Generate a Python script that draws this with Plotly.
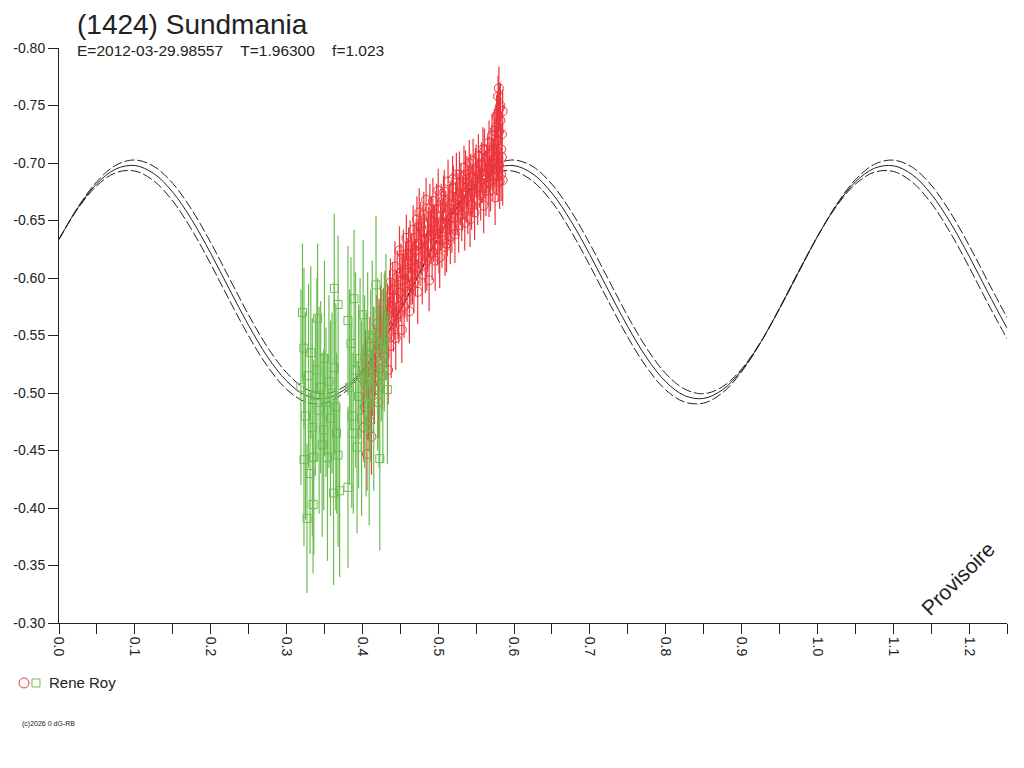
import plotly.graph_objects as go

# fitted light curve, phase step 0.025
fit_phase = [0.000, 0.025, 0.050, 0.075, 0.100, 0.125, 0.150, 0.175, 0.200, 0.225,
             0.250, 0.275, 0.300, 0.325, 0.350, 0.375, 0.400, 0.425, 0.450, 0.475,
             0.500, 0.525, 0.550, 0.575, 0.600, 0.625, 0.650, 0.675, 0.700, 0.725,
             0.750, 0.775, 0.800, 0.825, 0.850, 0.875, 0.900, 0.925, 0.950, 0.975,
             1.000, 1.025, 1.050, 1.075, 1.100, 1.125, 1.150, 1.175, 1.200, 1.225,
             1.250]
fit_mag = [-0.6336, -0.6611, -0.6821, -0.6948, -0.6978, -0.6908, -0.6746, -0.6507, -0.6215, -0.5898,
           -0.5588, -0.5314, -0.5105, -0.4980, -0.4952, -0.5024, -0.5188, -0.5428, -0.5721, -0.6038,
           -0.6348, -0.6620, -0.6828, -0.6951, -0.6977, -0.6904, -0.6738, -0.6496, -0.6202, -0.5885,
           -0.5576, -0.5305, -0.5098, -0.4977, -0.4953, -0.5029, -0.5196, -0.5439, -0.5734, -0.6051,
           -0.6360, -0.6630, -0.6835, -0.6954, -0.6976, -0.6899, -0.6730, -0.6485, -0.6190, -0.5872,
           -0.5564]
fit_upper = [-0.6335, -0.6617, -0.6839, -0.6981, -0.7026, -0.6971, -0.6823, -0.6594, -0.6309, -0.5993,
             -0.5679, -0.5397, -0.5177, -0.5037, -0.4994, -0.5050, -0.5201, -0.5431, -0.5718, -0.6033,
             -0.6347, -0.6627, -0.6847, -0.6984, -0.7026, -0.6968, -0.6815, -0.6584, -0.6296, -0.5980,
             -0.5667, -0.5388, -0.5169, -0.5034, -0.4994, -0.5055, -0.5208, -0.5441, -0.5730, -0.6046,
             -0.6359, -0.6637, -0.6854, -0.6988, -0.7025, -0.6964, -0.6808, -0.6573, -0.6284, -0.5967,
             -0.5655]
fit_lower = [-0.6338, -0.6605, -0.6803, -0.6916, -0.6930, -0.6845, -0.6669, -0.6420, -0.6122, -0.5803,
             -0.5497, -0.5231, -0.5033, -0.4923, -0.4911, -0.4998, -0.5175, -0.5425, -0.5725, -0.6043,
             -0.6349, -0.6613, -0.6809, -0.6918, -0.6928, -0.6840, -0.6661, -0.6408, -0.6108, -0.5790,
             -0.5485, -0.5222, -0.5027, -0.4921, -0.4912, -0.5003, -0.5184, -0.5437, -0.5738, -0.6056,
             -0.6361, -0.6623, -0.6816, -0.6920, -0.6927, -0.6834, -0.6652, -0.6397, -0.6096, -0.5777,
             -0.5473]

# Rene Roy, red session
red_phase = [0.401, 0.403, 0.404, 0.406, 0.407, 0.409, 0.410, 0.411, 0.412, 0.414,
             0.415, 0.416, 0.418, 0.419, 0.420, 0.421, 0.423, 0.424, 0.425, 0.427,
             0.428, 0.429, 0.430, 0.432, 0.433, 0.434, 0.435, 0.437, 0.438, 0.439,
             0.440, 0.441, 0.443, 0.444, 0.445, 0.446, 0.448, 0.449, 0.450, 0.452,
             0.453, 0.454, 0.455, 0.457, 0.458, 0.459, 0.460, 0.462, 0.463, 0.464,
             0.465, 0.467, 0.468, 0.469, 0.470, 0.472, 0.473, 0.474, 0.476, 0.477,
             0.478, 0.479, 0.481, 0.482, 0.483, 0.484, 0.486, 0.487, 0.488, 0.490,
             0.491, 0.492, 0.493, 0.495, 0.496, 0.497, 0.499, 0.500, 0.501, 0.503,
             0.504, 0.505, 0.506, 0.508, 0.509, 0.510, 0.512, 0.513, 0.514, 0.516,
             0.517, 0.518, 0.520, 0.521, 0.522, 0.524, 0.525, 0.526, 0.527, 0.529,
             0.530, 0.531, 0.533, 0.534, 0.535, 0.537, 0.538, 0.539, 0.540, 0.542,
             0.543, 0.544, 0.546, 0.547, 0.548, 0.549, 0.551, 0.552, 0.553, 0.555,
             0.556, 0.557, 0.558, 0.560, 0.561, 0.562, 0.563, 0.565, 0.566, 0.567,
             0.568, 0.569, 0.570, 0.571, 0.572, 0.573, 0.574, 0.575, 0.576, 0.577,
             0.578, 0.578, 0.579, 0.579, 0.580, 0.580, 0.581, 0.581, 0.582, 0.583,
             0.402, 0.405, 0.408, 0.413, 0.417, 0.422, 0.426, 0.431, 0.436, 0.442,
             0.447, 0.451, 0.456, 0.461, 0.466, 0.471, 0.475, 0.480, 0.485, 0.489,
             0.494, 0.498, 0.502, 0.507, 0.511, 0.515, 0.519, 0.523, 0.528, 0.532,
             0.536, 0.541, 0.545, 0.550, 0.554, 0.559, 0.564, 0.567, 0.571, 0.574,
             0.576, 0.577, 0.579, 0.580, 0.582, 0.583, 0.584, 0.584, 0.585, 0.585]
red_mag = [-0.512, -0.488, -0.530, -0.447, -0.505, -0.476, -0.540, -0.498, -0.462, -0.521,
           -0.548, -0.503, -0.535, -0.560, -0.515, -0.492, -0.552, -0.571, -0.528, -0.541,
           -0.566, -0.531, -0.584, -0.549, -0.572, -0.520, -0.558, -0.596, -0.541, -0.575,
           -0.590, -0.563, -0.610, -0.548, -0.582, -0.601, -0.569, -0.624, -0.587, -0.555,
           -0.598, -0.620, -0.575, -0.607, -0.635, -0.588, -0.612, -0.571, -0.628, -0.601,
           -0.615, -0.642, -0.596, -0.624, -0.609, -0.651, -0.588, -0.630, -0.617, -0.645,
           -0.626, -0.603, -0.655, -0.634, -0.612, -0.668, -0.628, -0.641, -0.598, -0.637,
           -0.650, -0.622, -0.667, -0.641, -0.615, -0.655, -0.634, -0.676, -0.628, -0.646,
           -0.661, -0.633, -0.648, -0.675, -0.627, -0.655, -0.642, -0.684, -0.651, -0.636,
           -0.664, -0.645, -0.678, -0.652, -0.638, -0.690, -0.659, -0.671, -0.646, -0.667,
           -0.680, -0.655, -0.672, -0.696, -0.648, -0.669, -0.686, -0.660, -0.677, -0.651,
           -0.688, -0.664, -0.702, -0.675, -0.657, -0.693, -0.680, -0.668, -0.706, -0.683,
           -0.672, -0.698, -0.686, -0.663, -0.711, -0.690, -0.676, -0.703, -0.684, -0.718,
           -0.695, -0.681, -0.708, -0.724, -0.689, -0.700, -0.716, -0.670, -0.731, -0.694,
           -0.742, -0.706, -0.758, -0.689, -0.765, -0.727, -0.748, -0.684, -0.737, -0.712,
           -0.470, -0.522, -0.491, -0.508, -0.525, -0.557, -0.515, -0.561, -0.583, -0.572,
           -0.575, -0.605, -0.592, -0.620, -0.603, -0.628, -0.657, -0.640, -0.615, -0.660,
           -0.638, -0.660, -0.618, -0.668, -0.630, -0.660, -0.686, -0.660, -0.690, -0.664,
           -0.690, -0.700, -0.677, -0.695, -0.690, -0.712, -0.695, -0.676, -0.700, -0.728,
           -0.712, -0.740, -0.720, -0.698, -0.750, -0.690, -0.725, -0.705, -0.745, -0.685]
red_err = [0.030, 0.028, 0.025, 0.032, 0.030, 0.027, 0.026, 0.030, 0.033, 0.024,
           0.027, 0.030, 0.022, 0.025, 0.028, 0.031, 0.024, 0.022, 0.029, 0.026,
           0.025, 0.028, 0.022, 0.027, 0.023, 0.030, 0.026, 0.021, 0.028, 0.024,
           0.024, 0.027, 0.022, 0.028, 0.025, 0.023, 0.026, 0.021, 0.025, 0.029,
           0.023, 0.022, 0.027, 0.024, 0.020, 0.026, 0.023, 0.028, 0.022, 0.025,
           0.024, 0.021, 0.026, 0.023, 0.025, 0.020, 0.028, 0.022, 0.024, 0.021,
           0.023, 0.026, 0.020, 0.022, 0.025, 0.019, 0.023, 0.021, 0.027, 0.022,
           0.021, 0.024, 0.020, 0.022, 0.026, 0.021, 0.023, 0.019, 0.024, 0.022,
           0.021, 0.024, 0.022, 0.019, 0.025, 0.021, 0.023, 0.019, 0.022, 0.024,
           0.021, 0.023, 0.020, 0.022, 0.025, 0.019, 0.022, 0.020, 0.024, 0.021,
           0.020, 0.023, 0.021, 0.019, 0.024, 0.021, 0.020, 0.022, 0.021, 0.024,
           0.020, 0.022, 0.019, 0.021, 0.024, 0.020, 0.021, 0.022, 0.019, 0.021,
           0.022, 0.020, 0.021, 0.024, 0.019, 0.021, 0.022, 0.020, 0.021, 0.019,
           0.021, 0.023, 0.020, 0.019, 0.022, 0.021, 0.020, 0.024, 0.019, 0.022,
           0.020, 0.022, 0.018, 0.023, 0.019, 0.021, 0.020, 0.024, 0.020, 0.022,
           0.030, 0.026, 0.031, 0.028, 0.027, 0.025, 0.030, 0.027, 0.024, 0.026,
           0.028, 0.025, 0.027, 0.024, 0.026, 0.023, 0.021, 0.024, 0.026, 0.022,
           0.024, 0.022, 0.027, 0.021, 0.025, 0.022, 0.020, 0.023, 0.020, 0.023,
           0.021, 0.020, 0.022, 0.021, 0.021, 0.019, 0.021, 0.023, 0.021, 0.019,
           0.021, 0.019, 0.020, 0.022, 0.020, 0.023, 0.020, 0.021, 0.019, 0.022]

# Rene Roy, green session
green_phase = [0.319, 0.321, 0.323, 0.323, 0.325, 0.327, 0.329, 0.331, 0.332, 0.334,
               0.335, 0.336, 0.338, 0.340, 0.341, 0.343, 0.345, 0.347, 0.349, 0.350,
               0.352, 0.354, 0.356, 0.358, 0.360, 0.362, 0.363, 0.363, 0.365, 0.366,
               0.368, 0.368, 0.370, 0.381, 0.381, 0.383, 0.385, 0.386, 0.388, 0.389,
               0.391, 0.393, 0.395, 0.397, 0.399, 0.401, 0.403, 0.405, 0.407, 0.409,
               0.411, 0.413, 0.415, 0.418, 0.420, 0.422, 0.423, 0.425, 0.427, 0.429,
               0.431, 0.433]
green_mag = [-0.505, -0.570, -0.539, -0.442, -0.480, -0.391, -0.515, -0.430, -0.535, -0.470,
             -0.403, -0.444, -0.498, -0.520, -0.565, -0.485, -0.505, -0.455, -0.468, -0.530,
             -0.492, -0.444, -0.510, -0.478, -0.500, -0.413, -0.591, -0.522, -0.488, -0.465,
             -0.577, -0.446, -0.415, -0.418, -0.563, -0.505, -0.543, -0.480, -0.465, -0.582,
             -0.520, -0.453, -0.497, -0.530, -0.478, -0.568, -0.510, -0.490, -0.535, -0.470,
             -0.515, -0.550, -0.495, -0.594, -0.525, -0.505, -0.443, -0.540, -0.515, -0.544,
             -0.566, -0.503]
green_err = [0.085, 0.060, 0.070, 0.075, 0.090, 0.065, 0.080, 0.070, 0.075, 0.095,
             0.060, 0.085, 0.070, 0.080, 0.065, 0.090, 0.075, 0.080, 0.070, 0.085,
             0.065, 0.090, 0.075, 0.085, 0.070, 0.080, 0.065, 0.075, 0.090, 0.070,
             0.060, 0.080, 0.075, 0.070, 0.065, 0.085, 0.075, 0.080, 0.070, 0.060,
             0.085, 0.075, 0.080, 0.070, 0.085, 0.065, 0.075, 0.080, 0.070, 0.085,
             0.075, 0.065, 0.080, 0.060, 0.075, 0.070, 0.080, 0.065, 0.075, 0.060,
             0.055, 0.065]

y_ticks = [-0.80, -0.75, -0.70, -0.65, -0.60, -0.55, -0.50, -0.45, -0.40, -0.35, -0.30]
y_labels = ["-0.80", "-0.75", "-0.70", "-0.65", "-0.60", "-0.55", "-0.50", "-0.45", "-0.40", "-0.35", "-0.30"]

RED = "#ee343b"
GREEN = "#6abd4f"
INK = "#222222"
FONT = "Liberation Sans, Arial, sans-serif"

fig = go.Figure()

# model curve and its uncertainty envelope
fig.add_trace(go.Scatter(x=fit_phase, y=fit_upper, mode="lines", line_shape="spline",
                         line=dict(color=INK, width=1, dash="10px,3px")))
fig.add_trace(go.Scatter(x=fit_phase, y=fit_lower, mode="lines", line_shape="spline",
                         line=dict(color=INK, width=1, dash="10px,3px")))
fig.add_trace(go.Scatter(x=fit_phase, y=fit_mag, mode="lines", line_shape="spline",
                         line=dict(color=INK, width=1)))

fig.add_trace(go.Scatter(
    x=red_phase, y=red_mag, mode="markers",
    marker=dict(symbol="circle-open", size=9, color=RED, line=dict(width=1, color=RED)),
    error_y=dict(type="data", array=red_err, color=RED, thickness=1.2, width=0),
))
fig.add_trace(go.Scatter(
    x=green_phase, y=green_mag, mode="markers",
    marker=dict(symbol="square-open", size=8, color=GREEN, line=dict(width=1, color=GREEN)),
    error_y=dict(type="data", array=green_err, color=GREEN, thickness=1.2, width=0),
))

fig.update_xaxes(
    range=[0, 1.25], tick0=0, dtick=0.1, tickformat=".1f", tickangle=90,
    ticks="outside", ticklen=10, tickcolor=INK, showline=True, linecolor=INK, linewidth=1,
    minor=dict(dtick=0.05, ticks="outside", ticklen=10, tickcolor=INK),
    showgrid=False, zeroline=False, tickfont=dict(size=14, color=INK), automargin=False,
)
fig.update_yaxes(
    range=[-0.30, -0.80], tickvals=y_ticks, ticktext=y_labels,
    ticks="outside", ticklen=10, tickcolor=INK, showline=True, linecolor=INK, linewidth=1,
    showgrid=False, zeroline=False, tickfont=dict(size=14, color=INK), automargin=False,
)

fig.update_layout(
    width=1024, height=768,
    margin=dict(l=51, r=25, t=40, b=153),
    paper_bgcolor="white", plot_bgcolor="white",
    showlegend=False,
    font=dict(family=FONT, color=INK),
    annotations=[
        dict(text="(1424) Sundmania", xref="paper", yref="paper", x=0.0169, y=1.04,
             xanchor="left", yanchor="middle", showarrow=False, font=dict(size=28)),
        dict(text="E=2012-03-29.98557\u00a0\u00a0\u00a0\u00a0T=1.96300\u00a0\u00a0\u00a0\u00a0f=1.023",
             xref="paper", yref="paper", x=0.0169, y=0.9965,
             xanchor="left", yanchor="middle", showarrow=False, font=dict(size=15.5)),
        dict(text="Provisoire", xref="paper", yref="paper", x=0.948, y=0.078,
             xanchor="center", yanchor="middle", showarrow=False, textangle=-45,
             font=dict(size=21)),
        dict(text="Rene Roy", xref="paper", yref="paper", x=-0.0127, y=-0.1043,
             xanchor="left", yanchor="middle", showarrow=False, font=dict(size=15)),
        dict(text="(c)2026 0 dG-RB", xref="paper", yref="paper", x=-0.0411, y=-0.1757,
             xanchor="left", yanchor="middle", showarrow=False, font=dict(size=7, color="#222222")),
    ],
    shapes=[
        dict(type="circle", xref="paper", yref="paper", xsizemode="pixel", ysizemode="pixel",
             xanchor=-0.0369, yanchor=-0.1043, x0=-5, x1=5, y0=-5, y1=5,
             line=dict(color=RED, width=1)),
        dict(type="rect", xref="paper", yref="paper", xsizemode="pixel", ysizemode="pixel",
             xanchor=-0.0243, yanchor=-0.1043, x0=-4, x1=4, y0=-4, y1=4,
             line=dict(color=GREEN, width=1)),
    ],
)

fig.write_html("out.html")
